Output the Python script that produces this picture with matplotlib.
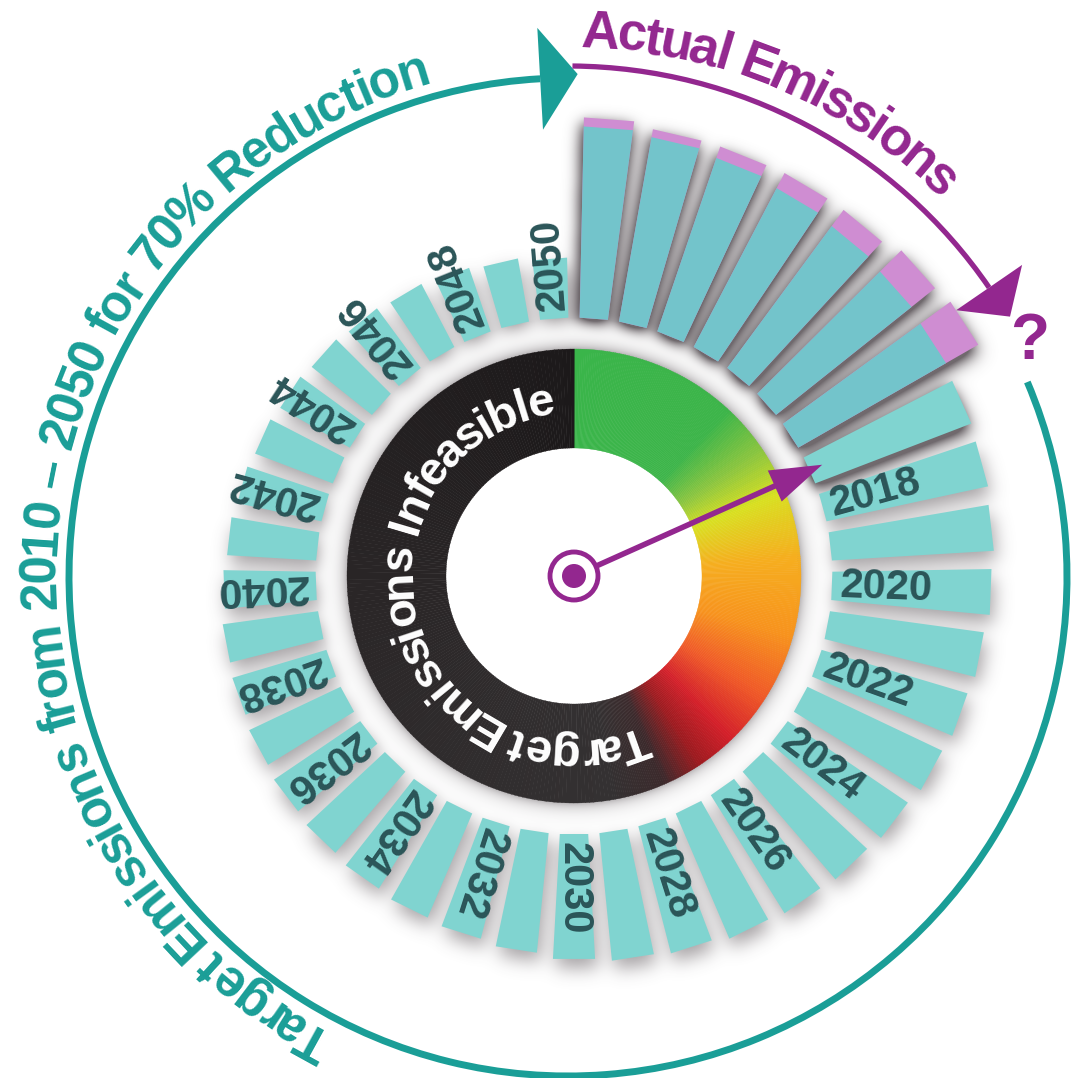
import numpy as np
import matplotlib
matplotlib.use("Agg")
import matplotlib.pyplot as plt
from matplotlib.patches import Polygon, Wedge, Arc, Circle
from matplotlib.colors import LinearSegmentedColormap
from matplotlib.font_manager import FontProperties, findfont, get_font

# ── Data ─────────────────────────────────────────────────────────────────────
years = list(range(2010, 2051))
# target emissions, index 2010 = 100 (70 % cut by 2050)
target = [100, 97.9, 95.8, 93.7, 92.1, 90.6, 89.0, 87.4, 86.4, 84.8,
          83.2, 81.2, 79.6, 78.0, 75.9, 74.3, 72.8, 71.2, 68.6, 67.0,
          65.4, 62.8, 60.7, 59.2, 57.6, 56.0, 54.5, 52.9, 51.3, 50.3,
          48.2, 46.6, 45.0, 43.5, 41.9, 40.3, 38.7, 37.2, 35.1, 33.5,
          31.4]
actual_years = [2010, 2011, 2012, 2013, 2014, 2015, 2016]
actual = [104.7, 102.1, 102.1, 102.6, 102.6, 106.3, 108.4]
current_year = 2017
label_years = [y for y in years if y >= 2018 and y % 2 == 0]

outer_title = "Target Emissions from 2010 \u2013 2050 for 70% Reduction"
actual_title = "Actual Emissions"
ring_title = "Target Emissions Infeasible"

# ── Style / geometry ─────────────────────────────────────────────────────────
W, H, DPI = 1071, 1078, 100
GX, GY = 574, 576          # gauge centre
BX, BY = 568, 577          # outer arrows centre
R_BAR0 = 258
PX_PER_UNIT = 1.91
N = len(years)
STEP = 360 / N
HALF_W = 3.15
R_RING_OUT, R_RING_IN = 227, 128

TEAL = "#1a9e97"
PURPLE = "#93278f"
BAR_LIGHT = "#80d4d0"
BAR_DARK = "#73c4cb"
CAP = "#cf8dd2"
LABEL = "#2b5558"
FONT = "Liberation Sans"


def pol(cx, cy, a, r):
    t = np.radians(a)
    return cx + r * np.sin(t), cy - r * np.cos(t)


def bar_poly(a, r0, r1):
    k = 1 / np.cos(np.radians(HALF_W))
    return [pol(GX, GY, a - HALF_W, r0 * k), pol(GX, GY, a + HALF_W, r0 * k),
            pol(GX, GY, a + HALF_W, r1 * k), pol(GX, GY, a - HALF_W, r1 * k)]


def blur(img, sigma):
    fy = np.fft.fftfreq(img.shape[0])[:, None]
    fx = np.fft.rfftfreq(img.shape[1])[None, :]
    kern = np.exp(-2 * (np.pi * sigma) ** 2 * (fx ** 2 + fy ** 2))
    return np.fft.irfft2(np.fft.rfft2(img) * kern, s=img.shape)


def advances(s, fp):
    font = get_font(findfont(fp))
    font.set_size(fp.get_size_in_points(), 72)
    out = []
    for ch in s:
        g = font.load_char(ord(ch))
        out.append(g.linearHoriAdvance / 65536 * DPI / 72)
    return out


def curved_text(ax, s, cx, cy, r, a_mid, size, color, track=1.0, z=7):
    fp = FontProperties(family=FONT, weight="bold", size=size)
    adv = [w * track for w in advances(s, fp)]
    a_start = a_mid - np.degrees(sum(adv) / r) / 2
    pos = 0.0
    for ch, w in zip(s, adv):
        if ch != " ":
            a = a_start + np.degrees((pos + w / 2) / r)
            x, y = pol(cx, cy, a, r)
            ax.text(x, y, ch, fontproperties=fp, color=color, rotation=-a,
                    rotation_mode="anchor", ha="center", va="baseline", zorder=z)
        pos += w


fig = plt.figure(figsize=(W / DPI, H / DPI), dpi=DPI)
ax = fig.add_axes([0, 0, 1, 1])
ax.set_xlim(0, W)
ax.set_ylim(H, 0)
ax.axis("off")

angles = [(i + 0.5) * STEP for i in range(N)]
act = dict(zip(actual_years, actual))
bar_len = np.array([max(t, act.get(y, 0)) * PX_PER_UNIT
                    for y, t in zip(years, target)])
dark_w = np.array([1.0 if y <= current_year else 0.0 for y in years])

# ── Soft shadows (computed from the bar geometry) ────────────────────────────
yy, xx = np.mgrid[0:H, 0:W] + 0.5


def bar_mask(ox, oy, weights):
    dx, dy = xx - ox - GX, yy - oy - GY
    r = np.hypot(dx, dy)
    a = np.degrees(np.arctan2(dx, -dy)) % 360
    k = np.floor(a / STEP).astype(int) % N
    d = a - (k + 0.5) * STEP
    along = r * np.cos(np.radians(d))
    inside = (np.abs(d) < HALF_W) & (along > R_BAR0) & (along < R_BAR0 + bar_len[k])
    return inside * weights[k]


rr = np.hypot(xx - GX, yy - GY)
shade = 0.5 * blur(bar_mask(3, 9, np.ones(N)), 9)
shade += 0.9 * blur(bar_mask(-3, 5, dark_w), 7)
shade *= np.clip((rr - 238) / 20, 0, 1)
shade += np.where(rr > R_RING_OUT - 3, 0.4 * np.exp(-(rr - R_RING_OUT) / 7), 0)
shade = np.clip(shade, 0, 0.8)
rgba = np.zeros((H, W, 4))
rgba[..., :3] = (0.30, 0.27, 0.29)
rgba[..., 3] = shade
ax.imshow(rgba, extent=(0, W, H, 0), zorder=1, interpolation="bilinear")

# ── Bars ─────────────────────────────────────────────────────────────────────
for y, a, t in zip(years, angles, target):
    if y in act:
        ax.add_patch(Polygon(bar_poly(a, R_BAR0, R_BAR0 + act[y] * PX_PER_UNIT),
                             closed=True, facecolor=CAP, edgecolor="none", zorder=2))
    col = BAR_DARK if y in act else BAR_LIGHT
    ax.add_patch(Polygon(bar_poly(a, R_BAR0, R_BAR0 + t * PX_PER_UNIT),
                         closed=True, facecolor=col, edgecolor="none", zorder=3))

for y in label_years:
    a = angles[years.index(y)]
    x, yv = pol(GX, GY, a, R_BAR0 + 8)
    ax.text(x, yv, str(y), fontsize=30, fontweight="bold", family=FONT,
            color=LABEL, rotation=90 - a, rotation_mode="anchor",
            ha="left", va="center", zorder=4)

# ── Gauge ring ───────────────────────────────────────────────────────────────
gauge_cmap = LinearSegmentedColormap.from_list("gauge", [
    (0.00, "#3ab54a"), (0.25, "#3db54a"), (0.33, "#8dc63f"), (0.40, "#d9e021"),
    (0.50, "#f6ae1f"), (0.62, "#f7931e"), (0.72, "#f05a28"), (0.80, "#d4202a"),
    (0.86, "#9e1b20"), (0.92, "#3c2a2c"), (1.00, "#343132")])
dark_cmap = LinearSegmentedColormap.from_list("dark", ["#343132", "#2a2627", "#1c191a"])
G_END = 170
for a in np.arange(0, G_END, 0.5):
    c = gauge_cmap(a / G_END)
    ax.add_patch(Wedge((GX, GY), R_RING_OUT, a - 90, a + 0.6 - 90,
                       width=R_RING_OUT - R_RING_IN, facecolor=c, edgecolor=c,
                       lw=0.2, zorder=5))
for a in np.arange(G_END, 360, 1.0):
    c = dark_cmap((a - G_END) / (360 - G_END))
    ax.add_patch(Wedge((GX, GY), R_RING_OUT, a - 90, a + 1.1 - 90,
                       width=R_RING_OUT - R_RING_IN, facecolor=c, edgecolor=c,
                       lw=0.2, zorder=5))

curved_text(ax, ring_title, GX, GY, 163, 254.5, 34, "white", track=0.9, z=6)

# ── Needle ───────────────────────────────────────────────────────────────────
na = angles[years.index(current_year)]
x0, y0 = pol(GX, GY, na, 24)
x1, y1 = pol(GX, GY, na, 225)
ax.plot([x0, x1], [y0, y1], color=PURPLE, lw=4, solid_capstyle="butt", zorder=8)
tip = pol(GX, GY, na, 272)
base = np.array(pol(GX, GY, na, 220))
nvec = np.array([np.cos(np.radians(na)), np.sin(np.radians(na))])
ax.add_patch(Polygon([tip, base + 17 * nvec, base - 17 * nvec], closed=True,
                     facecolor=PURPLE, edgecolor="none", zorder=8))
ax.add_patch(Circle((GX, GY), 24, fill=False, edgecolor=PURPLE, lw=3.5, zorder=8))
ax.add_patch(Circle((GX, GY), 12, facecolor=PURPLE, edgecolor="none", zorder=8))

# ── Outer arrows and titles ─────────────────────────────────────────────────
R_T = 499
ax.add_patch(Arc((BX, BY), 2 * R_T, 2 * R_T, theta1=67 - 90, theta2=356.8 - 90,
                 color=TEAL, lw=5, zorder=6))
b1 = pol(BX, BY, 356.8, R_T - 51)
b2 = pol(BX, BY, 356.8, R_T + 51)
ax.add_patch(Polygon([b1, b2, pol(BX, BY, 361.1, R_T + 4)], closed=True,
                     facecolor=TEAL, edgecolor="none", zorder=6))

R_P = 511
ax.add_patch(Arc((BX, BY), 2 * R_P, 2 * R_P, theta1=0.5 - 90, theta2=55.5 - 90,
                 color=PURPLE, lw=3.8, zorder=6))
p1 = pol(BX, BY, 55.5, R_P - 40)
p2 = pol(BX, BY, 55.5, R_P + 40)
ax.add_patch(Polygon([p1, p2, pol(BX, BY, 59.5, R_P + 2)], closed=True,
                     facecolor=PURPLE, edgecolor="none", zorder=6))
qx, qy = pol(BX, BY, 63.0, 518)
ax.text(qx, qy, "?", fontsize=46, fontweight="bold", family=FONT, color=PURPLE,
        ha="center", va="center", zorder=7)

curved_text(ax, outer_title, BX, BY, 513, 275.9, 37, TEAL, track=0.93)
curved_text(ax, actual_title, BX, BY, 530, 23.0, 38, PURPLE, track=0.9)

fig.savefig("out.png", dpi=DPI, facecolor="white")
